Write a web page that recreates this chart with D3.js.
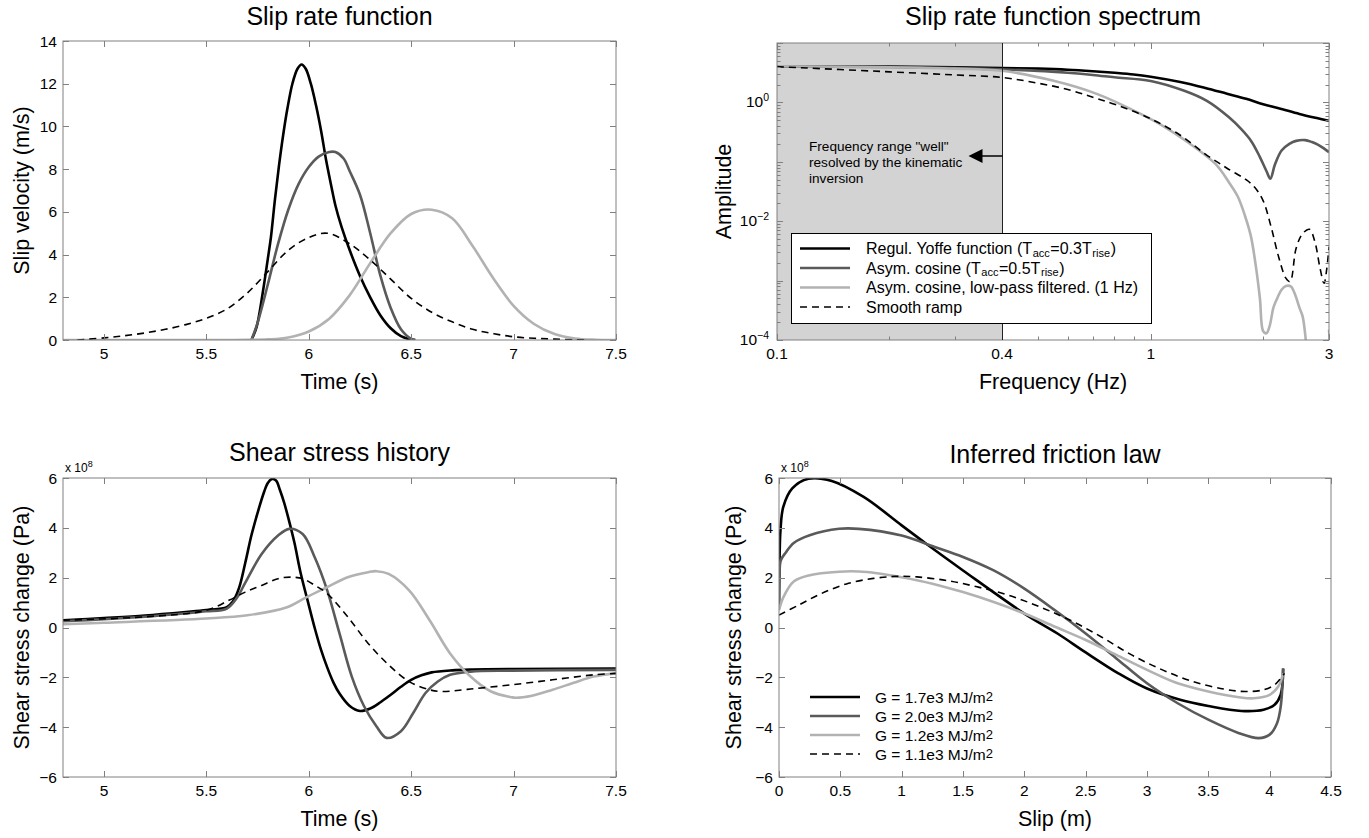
<!DOCTYPE html>
<html>
<head>
<meta charset="utf-8">
<script src="https://cdn.jsdelivr.net/npm/d3@7"></script>
<style>
  html, body { margin: 0; padding: 0; background: #fff; }
  svg { display: block; font-family: "Liberation Sans", Arial, Helvetica, sans-serif; }
</style>
</head>
<body>
<svg id="chart" width="1369" height="838"></svg>
<script>
// ---------------- DATA ----------------
// Panel 1: slip rate function (time s, slip velocity m/s)
const srfYoffe = [[5.72,0],[5.745,0.6],[5.775,2.2],[5.80,3.8],[5.815,4.8],[5.835,6.6],[5.855,8.2],[5.875,9.6],[5.895,10.8],[5.92,12.0],[5.945,12.7],[5.965,12.9],[5.985,12.7],[6.01,12.0],[6.035,11.0],[6.06,9.8],[6.085,8.4],[6.11,7.2],[6.13,6.3],[6.16,5.3],[6.2,4.2],[6.25,3.0],[6.3,2.0],[6.35,1.15],[6.4,0.55],[6.45,0.18],[6.5,0.02],[6.52,0]];
const srfCosine = [[5.72,0],[5.75,0.8],[5.8,2.6],[5.85,4.5],[5.9,6.1],[5.95,7.3],[6.0,8.1],[6.05,8.6],[6.1,8.8],[6.13,8.8],[6.17,8.5],[6.2,7.9],[6.25,6.8],[6.3,5.0],[6.35,3.0],[6.4,1.5],[6.45,0.5],[6.5,0.05],[6.52,0]];
const srfFiltered = [[4.8,0],[5.6,0],[5.7,0.005],[5.8,0.03],[5.9,0.12],[6.0,0.4],[6.1,1.0],[6.2,2.1],[6.3,3.6],[6.4,5.0],[6.5,5.9],[6.6,6.1],[6.7,5.7],[6.8,4.4],[6.9,2.9],[7.0,1.6],[7.1,0.75],[7.2,0.28],[7.3,0.07],[7.4,0.01],[7.5,0]];
const srfRamp = [[4.87,0],[5.0,0.1],[5.1,0.2],[5.2,0.33],[5.3,0.5],[5.4,0.72],[5.5,1.02],[5.6,1.45],[5.7,2.2],[5.8,3.2],[5.9,4.2],[6.0,4.8],[6.09,5.0],[6.2,4.5],[6.3,3.75],[6.4,2.85],[6.5,1.95],[6.6,1.3],[6.7,0.85],[6.8,0.5],[6.9,0.3],[7.0,0.15],[7.1,0.08],[7.2,0.04],[7.3,0.01],[7.35,0]];

// Panel 2: spectrum (frequency Hz, amplitude)
const specYoffe = [[0.1,4.05],[0.2,4.0],[0.3,3.9],[0.4,3.8],[0.5,3.7],[0.6,3.55],[0.7,3.35],[0.8,3.15],[0.9,2.95],[1.0,2.7],[1.2,2.2],[1.4,1.75],[1.6,1.4],[1.8,1.15],[2.0,0.93],[2.2,0.8],[2.5,0.64],[2.8,0.54],[3.0,0.49]];
const specCosine = [[0.1,4.05],[0.2,3.95],[0.3,3.8],[0.4,3.6],[0.5,3.4],[0.6,3.15],[0.7,2.9],[0.8,2.65],[1.0,2.3],[1.23,1.57],[1.41,1.07],[1.62,0.56],[1.75,0.35],[1.86,0.22],[1.96,0.12],[2.04,0.07],[2.09,0.052],[2.15,0.09],[2.24,0.155],[2.35,0.2],[2.45,0.225],[2.59,0.232],[2.7,0.215],[2.8,0.195],[2.9,0.17],[3.0,0.145]];
const specFiltered = [[0.1,4.05],[0.2,3.9],[0.3,3.7],[0.4,3.4],[0.55,2.31],[0.72,1.38],[0.94,0.64],[1.08,0.4],[1.24,0.227],[1.49,0.092],[1.62,0.045],[1.71,0.026],[1.79,0.012],[1.855,0.0055],[1.91,0.0018],[1.96,0.0005],[2.0,0.00014],[2.04,0.00013],[2.08,0.00017],[2.13,0.00035],[2.17,0.00047],[2.24,0.0007],[2.3,0.00081],[2.37,0.0008],[2.43,0.0006],[2.5,0.00035],[2.55,0.00025],[2.6,0.0001],[2.65,0.00002],[2.95,0.00002],[3.0,0.00015]];
const specRamp = [[0.1,4.0],[0.2,3.27],[0.3,2.9],[0.4,2.63],[0.5,2.1],[0.6,1.65],[0.7,1.22],[0.8,0.93],[1.0,0.53],[1.2,0.28],[1.4,0.135],[1.6,0.078],[1.8,0.05],[1.9,0.037],[2.0,0.022],[2.1,0.008],[2.2,0.0025],[2.3,0.0011],[2.36,0.00096],[2.45,0.0035],[2.55,0.0062],[2.66,0.0073],[2.75,0.0045],[2.84,0.0016],[2.91,0.0009],[2.96,0.0016],[3.0,0.0037]];

// Panel 3: shear stress history (time s, stress x1e8 Pa)
const tauYoffe = [[4.8,0.29],[5.0,0.38],[5.2,0.48],[5.4,0.62],[5.5,0.70],[5.6,0.82],[5.63,1.05],[5.66,1.6],[5.69,2.6],[5.72,3.7],[5.75,4.6],[5.78,5.4],[5.80,5.8],[5.82,5.96],[5.84,5.9],[5.86,5.5],[5.88,5.0],[5.9,4.4],[5.93,3.4],[5.96,2.2],[6.0,0.9],[6.03,-0.05],[6.06,-0.9],[6.09,-1.6],[6.12,-2.2],[6.15,-2.65],[6.2,-3.15],[6.25,-3.35],[6.3,-3.25],[6.35,-3.0],[6.4,-2.7],[6.45,-2.38],[6.5,-2.1],[6.55,-1.92],[6.6,-1.8],[6.7,-1.72],[6.8,-1.69],[7.0,-1.67],[7.5,-1.65]];
const tauCosine = [[4.8,0.25],[5.0,0.33],[5.2,0.43],[5.4,0.57],[5.5,0.65],[5.6,0.76],[5.65,1.2],[5.69,1.8],[5.77,2.95],[5.85,3.69],[5.905,3.96],[5.97,3.75],[6.03,2.8],[6.09,1.49],[6.15,-0.24],[6.21,-1.97],[6.27,-3.16],[6.33,-3.96],[6.38,-4.43],[6.45,-4.16],[6.51,-3.43],[6.57,-2.63],[6.63,-2.17],[6.69,-1.9],[6.79,-1.77],[6.99,-1.73],[7.5,-1.7]];
const tauFiltered = [[4.8,0.13],[5.0,0.19],[5.5,0.36],[5.7,0.49],[5.89,0.8],[5.99,1.22],[6.09,1.62],[6.19,2.02],[6.29,2.22],[6.33,2.26],[6.39,2.15],[6.49,1.49],[6.59,0.29],[6.69,-1.04],[6.79,-1.97],[6.89,-2.57],[6.99,-2.8],[7.01,-2.82],[7.09,-2.74],[7.19,-2.5],[7.29,-2.23],[7.39,-1.97],[7.5,-1.84]];
const tauRamp = [[4.8,0.29],[5.2,0.43],[5.5,0.69],[5.61,1.09],[5.69,1.42],[5.77,1.69],[5.85,1.96],[5.91,2.02],[5.97,1.96],[6.03,1.69],[6.09,1.36],[6.19,0.43],[6.29,-0.64],[6.39,-1.5],[6.49,-2.17],[6.59,-2.5],[6.65,-2.57],[6.79,-2.47],[6.99,-2.3],[7.19,-2.1],[7.39,-1.9],[7.5,-1.84]];

// Panel 4: inferred friction law (slip m, stress x1e8 Pa)
const fricA = [[0,0.85],[0.004,2.6],[0.012,3.9],[0.035,4.84],[0.108,5.58],[0.24,5.97],[0.43,5.88],[0.69,5.24],[1.0,4.1],[1.2,3.36],[1.5,2.29],[2.0,0.56],[2.27,-0.24],[2.5,-1.0],[2.77,-1.85],[3.0,-2.45],[3.27,-2.9],[3.5,-3.15],[3.77,-3.35],[3.95,-3.3],[4.04,-3.1],[4.09,-2.7],[4.11,-1.65]];
const fricB = [[0,0.76],[0.004,2.2],[0.015,2.7],[0.054,3.0],[0.12,3.39],[0.25,3.7],[0.49,3.96],[0.65,3.96],[1.0,3.69],[1.27,3.23],[1.5,2.83],[1.75,2.29],[2.0,1.56],[2.25,0.69],[2.5,-0.24],[2.75,-1.24],[3.0,-2.24],[3.25,-3.04],[3.5,-3.7],[3.75,-4.24],[3.91,-4.44],[4.0,-4.3],[4.06,-3.84],[4.09,-3.17],[4.11,-1.64]];
const fricC = [[0,0.7],[0.036,1.22],[0.12,1.85],[0.25,2.1],[0.49,2.24],[0.65,2.25],[0.8,2.18],[1.0,2.02],[1.25,1.76],[1.5,1.42],[1.75,1.02],[2.0,0.56],[2.25,0.03],[2.5,-0.5],[2.75,-1.1],[3.0,-1.7],[3.25,-2.24],[3.5,-2.57],[3.75,-2.8],[3.87,-2.84],[4.0,-2.7],[4.07,-2.37],[4.11,-1.84]];
const fricD = [[0,0.5],[0.16,0.9],[0.34,1.35],[0.55,1.75],[0.77,1.97],[0.95,2.05],[1.125,2.03],[1.375,1.88],[1.625,1.62],[1.875,1.29],[2.125,0.83],[2.375,0.29],[2.625,-0.37],[2.875,-1.1],[3.125,-1.7],[3.375,-2.17],[3.625,-2.47],[3.8,-2.57],[3.95,-2.5],[4.04,-2.3],[4.09,-2.04],[4.12,-1.84]];

// Ticks & labels
const timeTicks = [5, 5.5, 6, 6.5, 7, 7.5];
const velTicks = [0, 2, 4, 6, 8, 10, 12, 14];
const freqTicks = [0.1, 0.4, 1, 3];
const ampTicks = [1e-4, 1e-3, 1e-2, 1e-1, 1e0, 1e1];
const ampLabelExp = {"0.0001": "-4", "0.01": "-2", "1": "0"};
const stressTicks = [-6, -4, -2, 0, 2, 4, 6];
const slipTicks = [0, 0.5, 1, 1.5, 2, 2.5, 3, 3.5, 4, 4.5];
const titles = ["Slip rate function", "Slip rate function spectrum", "Shear stress history", "Inferred friction law"];
const specLegend = [
  {parts: [["Regul. Yoffe function (T",0],["acc",1],["=0.3T",0],["rise",1],[")",0]], style: 0},
  {parts: [["Asym. cosine (T",0],["acc",1],["=0.5T",0],["rise",1],[")",0]], style: 1},
  {parts: [["Asym. cosine, low-pass filtered. (1 Hz)",0]], style: 2},
  {parts: [["Smooth ramp",0]], style: 3}
];
const fricLegend = ["G = 1.7e3 MJ/m", "G = 2.0e3 MJ/m", "G = 1.2e3 MJ/m", "G = 1.1e3 MJ/m"];
const annotationLines = ['Frequency range "well"', 'resolved by the kinematic', 'inversion'];

// ---------------- STYLE ----------------
const styles = [
  {stroke: "#000000", width: 2.6, dash: null},
  {stroke: "#5a5a5a", width: 2.6, dash: null},
  {stroke: "#b2b2b2", width: 2.6, dash: null},
  {stroke: "#000000", width: 1.6, dash: "7,5"}
];
const axisColor = "#808080";
const svg = d3.select("#chart");
const defs = svg.append("defs");
let clipId = 0;

function drawPanel(o) {
  const g = svg.append("g");
  const [x0, x1] = o.x.range();
  const [yb, yt] = o.y.range();
  const id = "clip" + (clipId++);
  defs.append("clipPath").attr("id", id).append("rect")
    .attr("x", x0).attr("y", yt).attr("width", x1 - x0).attr("height", yb - yt);

  if (o.background) o.background(g);

  const line = d3.line().x(d => o.x(d[0])).y(d => o.y(Math.max(d[1], o.yFloor || -Infinity)))
    .curve(d3.curveCatmullRom.alpha(0.5));
  const cg = g.append("g").attr("clip-path", `url(#${id})`);
  o.series.forEach((s, i) => {
    const st = styles[i];
    cg.append("path").datum(s).attr("d", line).attr("fill", "none")
      .attr("stroke", st.stroke).attr("stroke-width", st.width)
      .attr("stroke-dasharray", st.dash).attr("stroke-linejoin", "round");
  });

  g.append("rect").attr("x", x0).attr("y", yt).attr("width", x1 - x0).attr("height", yb - yt)
    .attr("fill", "none").attr("stroke", axisColor).attr("stroke-width", 1);

  const tl = 6;
  o.xTicks.forEach(v => {
    const px = Math.round(o.x(v)) + 0.5;
    g.append("line").attr("x1", px).attr("x2", px).attr("y1", yb).attr("y2", yb - tl).attr("stroke", axisColor);
    g.append("line").attr("x1", px).attr("x2", px).attr("y1", yt).attr("y2", yt + tl).attr("stroke", axisColor);
    g.append("text").attr("x", o.x(v)).attr("y", yb + 19).attr("text-anchor", "middle")
      .attr("font-size", 15.5).text(v);
  });
  (o.xMinor || []).forEach(v => {
    const px = Math.round(o.x(v)) + 0.5;
    g.append("line").attr("x1", px).attr("x2", px).attr("y1", yb).attr("y2", yb - 3.5).attr("stroke", axisColor);
    g.append("line").attr("x1", px).attr("x2", px).attr("y1", yt).attr("y2", yt + 3.5).attr("stroke", axisColor);
  });
  o.yTicks.forEach(v => {
    const py = Math.round(o.y(v)) + 0.5;
    g.append("line").attr("x1", x0).attr("x2", x0 + tl).attr("y1", py).attr("y2", py).attr("stroke", axisColor);
    g.append("line").attr("x1", x1).attr("x2", x1 - tl).attr("y1", py).attr("y2", py).attr("stroke", axisColor);
    if (o.yLabel) o.yLabel(g, v, x0 - 6, o.y(v));
  });
  (o.yMinor || []).forEach(v => {
    const py = Math.round(o.y(v)) + 0.5;
    g.append("line").attr("x1", x0).attr("x2", x0 + 3.5).attr("y1", py).attr("y2", py).attr("stroke", axisColor);
    g.append("line").attr("x1", x1).attr("x2", x1 - 3.5).attr("y1", py).attr("y2", py).attr("stroke", axisColor);
  });

  g.append("text").attr("x", (x0 + x1) / 2).attr("y", o.titleY).attr("text-anchor", "middle")
    .attr("font-size", 25).text(o.title);
  g.append("text").attr("x", (x0 + x1) / 2).attr("y", yb + 49).attr("text-anchor", "middle")
    .attr("font-size", 21.5).text(o.xTitle);
  g.append("text").attr("transform", `translate(${o.yTitleX},${(yb + yt) / 2}) rotate(-90)`)
    .attr("text-anchor", "middle").attr("font-size", 21.5).text(o.yTitle);

  if (o.exponent) {
    const t = g.append("text").attr("x", x0 + 2).attr("y", yt - 6).attr("font-size", 12);
    t.append("tspan").text("x 10");
    t.append("tspan").attr("dy", -5).attr("font-size", 9).text("8");
  }
  if (o.foreground) o.foreground(g);
  return g;
}

const plainYLabel = (g, v, x, y) => {
  g.append("text").attr("x", x).attr("y", y + 5.5).attr("text-anchor", "end").attr("font-size", 15.5)
    .text(v < 0 ? "\u2212" + Math.abs(v) : v);
};

// ---------- Panel 1 ----------
const x1s = d3.scaleLinear().domain([4.8, 7.5]).range([63, 616]);
const y1s = d3.scaleLinear().domain([0, 14]).range([340, 41]);
drawPanel({
  x: x1s, y: y1s, xTicks: timeTicks, yTicks: velTicks,
  series: [srfYoffe, srfCosine, srfFiltered, srfRamp],
  title: titles[0], titleY: 25, xTitle: "Time (s)", yTitle: "Slip velocity (m/s)", yTitleX: 29,
  yLabel: plainYLabel
});

// ---------- Panel 2 ----------
const x2s = d3.scaleLog().domain([0.1, 3]).range([777, 1329]);
const y2s = d3.scaleLog().domain([1e-4, 10]).range([340, 43]);
const freqMinor = [0.2, 0.3, 0.5, 0.6, 0.7, 0.8, 0.9, 2];
const ampMinor = [];
[1e-4, 1e-3, 1e-2, 1e-1, 1e0].forEach(d => { for (let k = 2; k <= 9; k++) ampMinor.push(d * k); });
drawPanel({
  x: x2s, y: y2s, xTicks: freqTicks, xMinor: freqMinor, yTicks: ampTicks, yMinor: ampMinor,
  yFloor: 1e-6,
  series: [specYoffe, specCosine, specFiltered, specRamp],
  title: titles[1], titleY: 25, xTitle: "Frequency (Hz)", yTitle: "Amplitude", yTitleX: 731,
  yLabel: (g, v, x, y) => {
    const e = ampLabelExp[String(v)];
    if (e === undefined) return;
    const t = g.append("text").attr("x", x - 2).attr("y", y + 5).attr("text-anchor", "end").attr("font-size", 15.5);
    t.append("tspan").text("10");
    t.append("tspan").attr("dy", -6).attr("font-size", 10.5).text(e.replace("-", "\u2212"));
  },
  background: g => {
    g.append("rect").attr("x", x2s(0.1)).attr("y", 43).attr("width", x2s(0.4) - x2s(0.1)).attr("height", 297)
      .attr("fill", "#d3d3d3");
  },
  foreground: g => {
    const xl = Math.round(x2s(0.4)) + 0.5;
    g.append("line").attr("x1", xl).attr("x2", xl).attr("y1", 43).attr("y2", 340).attr("stroke", "#222").attr("stroke-width", 1);
    g.append("line").attr("x1", xl).attr("x2", xl - 22).attr("y1", 156).attr("y2", 156).attr("stroke", "#000").attr("stroke-width", 1.5);
    g.append("path").attr("d", `M${xl - 34},156 L${xl - 20},149 L${xl - 20},163 Z`).attr("fill", "#000");
    annotationLines.forEach((s, i) => {
      g.append("text").attr("x", 809).attr("y", 151 + i * 16).attr("font-size", 13.6).text(s);
    });
    const lg = g.append("g");
    lg.append("rect").attr("x", 791.5).attr("y", 233.5).attr("width", 360).attr("height", 90)
      .attr("fill", "#fff").attr("stroke", "#000").attr("stroke-width", 1);
    specLegend.forEach((item, i) => {
      const y = 248.5 + i * 19.5;
      const st = styles[item.style];
      lg.append("line").attr("x1", 800).attr("x2", 850).attr("y1", y).attr("y2", y)
        .attr("stroke", st.stroke).attr("stroke-width", st.width).attr("stroke-dasharray", st.dash);
      const t = lg.append("text").attr("x", 866).attr("y", y + 5.5).attr("font-size", 16);
      let shifted = false;
      item.parts.forEach(([s, sub]) => {
        const ts = t.append("tspan").text(s);
        if (sub && !shifted) { ts.attr("dy", 2.5).attr("dx", 0.6).attr("font-size", 11); shifted = true; }
        else if (!sub && shifted) { ts.attr("dy", -2.5).attr("dx", 0.6); shifted = false; }
      });
    });
  }
});

// ---------- Panel 3 ----------
const x3s = d3.scaleLinear().domain([4.8, 7.5]).range([63, 616]);
const y3s = d3.scaleLinear().domain([-6, 6]).range([777, 478]);
drawPanel({
  x: x3s, y: y3s, xTicks: timeTicks, yTicks: stressTicks,
  series: [tauYoffe, tauCosine, tauFiltered, tauRamp],
  title: titles[2], titleY: 461, xTitle: "Time (s)", yTitle: "Shear stress change (Pa)", yTitleX: 29,
  yLabel: plainYLabel, exponent: true
});

// ---------- Panel 4 ----------
const x4s = d3.scaleLinear().domain([0, 4.5]).range([779, 1331]);
const y4s = d3.scaleLinear().domain([-6, 6]).range([777, 478]);
drawPanel({
  x: x4s, y: y4s, xTicks: slipTicks, yTicks: stressTicks,
  series: [fricA, fricB, fricC, fricD],
  title: titles[3], titleY: 463, xTitle: "Slip (m)", yTitle: "Shear stress change (Pa)", yTitleX: 741,
  yLabel: plainYLabel, exponent: true,
  foreground: g => {
    fricLegend.forEach((s, i) => {
      const y = 697 + i * 19;
      const st = styles[i];
      g.append("line").attr("x1", 810).attr("x2", 860).attr("y1", y).attr("y2", y)
        .attr("stroke", st.stroke).attr("stroke-width", st.width).attr("stroke-dasharray", st.dash);
      const t = g.append("text").attr("x", 875).attr("y", y + 5.5).attr("font-size", 15.5);
      t.append("tspan").text(s);
      t.append("tspan").attr("dy", -2).attr("font-size", 13).text("2");
    });
  }
});
</script>
</body>
</html>
